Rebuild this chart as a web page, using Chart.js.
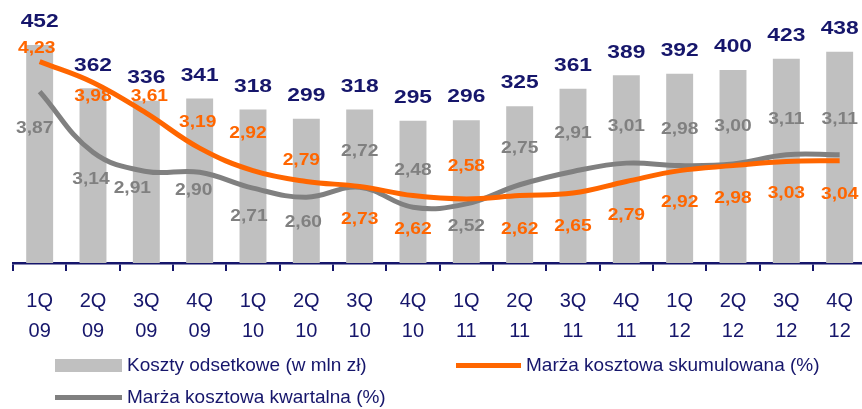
<!DOCTYPE html>
<html lang="pl">
<head>
<meta charset="utf-8">
<title>Koszty odsetkowe i marża kosztowa</title>
<script src="https://cdn.jsdelivr.net/npm/chart.js@4/dist/chart.umd.min.js"></script>
<style>
  html, body { margin: 0; padding: 0; background: #fff; overflow: hidden; }
  #wrap { position: relative; width: 862px; height: 409px; overflow: hidden; }
  #chart { position: absolute; left: 0; top: 0; }
  .legend-item { position: absolute; height: 20px; display: flex; align-items: center;
    font-family: 'Liberation Sans', Arial, sans-serif; font-size: 19px; color: #16166b; white-space: nowrap; }
  .swatch { display: inline-block; margin-right: 5px; }
</style>
</head>
<body>
<div id="wrap">
  <canvas id="chart" width="868" height="409"></canvas>
  <div class="legend-item" style="left:55px; top:355px;"><span class="swatch" style="width:67px;height:13px;background:#c0c0c0;"></span>Koszty odsetkowe (w mln zł)</div>
  <div class="legend-item" style="left:456px; top:355px;"><span class="swatch" style="width:65px;height:5px;background:#ff6600;"></span>Marża kosztowa skumulowana (%)</div>
  <div class="legend-item" style="left:55px; top:387px;"><span class="swatch" style="width:67px;height:5px;background:#808080;"></span>Marża kosztowa kwartalna (%)</div>
</div>
<script>
const quarters = ['1Q', '2Q', '3Q', '4Q', '1Q', '2Q', '3Q', '4Q', '1Q', '2Q', '3Q', '4Q', '1Q', '2Q', '3Q', '4Q'];
const years = ['09', '09', '09', '09', '10', '10', '10', '10', '11', '11', '11', '11', '12', '12', '12', '12'];
const interestCosts = [452, 362, 336, 341, 318, 299, 318, 295, 296, 325, 361, 389, 392, 400, 423, 438];
const cumulativeMargin = [4.23, 3.98, 3.61, 3.19, 2.92, 2.79, 2.73, 2.62, 2.58, 2.62, 2.65, 2.79, 2.92, 2.98, 3.03, 3.04];
const quarterlyMargin = [3.87, 3.14, 2.91, 2.90, 2.71, 2.60, 2.72, 2.48, 2.52, 2.75, 2.91, 3.01, 2.98, 3.00, 3.11, 3.11];

// where each line label sits relative to its point (px)
const cumulativeLabelDy = [-13, 14, -17, -26, -37, -21, 33, 34, -32, 34, 34, 34, 32, 33, 32, 34];
const cumulativeLabelDx = [-3, 0, 3, -2, -5, -5, 0, 0, 0, 0, 0, 0, 0, 0, 0, 0];
const quarterlyLabelDy = [37, 27, 17, 18, 28, 25, -36, -37, 23, -36, -38, -37, -36, -37, -35, -35];
const quarterlyLabelDx = [-5, -2, -14, -6, -4, -3, 0, 0, 0, 0, 0, 0, 0, 0, 0, 0];

const navy = '#16166b';
const labels = quarters.map((q, i) => [q, years[i]]);
const pl = v => v.toFixed(2).replace('.', ',');

// draws the value labels on bars and line points
const valueLabels = {
  id: 'valueLabels',
  afterDatasetsDraw(chart) {
    const ctx = chart.ctx;
    chart.data.datasets.forEach((ds, i) => {
      const opts = ds.valueLabels;
      if (!opts) return;
      const meta = chart.getDatasetMeta(i);
      meta.data.forEach((el, j) => {
        const dx = opts.dx ? opts.dx[j] : 0;
        const dy = Array.isArray(opts.dy) ? opts.dy[j] : opts.dy;
        ctx.save();
        ctx.translate(el.x + dx, el.y + dy);
        ctx.scale(1.2, 1);
        ctx.font = opts.font;
        ctx.fillStyle = opts.color;
        ctx.textAlign = 'center';
        ctx.textBaseline = 'middle';
        ctx.fillText(opts.format(ds.data[j]), 0, 0);
        ctx.restore();
      });
    });
  }
};

new Chart(document.getElementById('chart'), {
  type: 'bar',
  data: {
    labels: labels,
    datasets: [
      {
        type: 'line',
        label: 'Marża kosztowa skumulowana (%)',
        data: cumulativeMargin,
        yAxisID: 'y1',
        borderColor: '#ff6600',
        borderWidth: 5,
        pointRadius: 0,
        tension: 0.4,
        order: 1,
        valueLabels: { dy: cumulativeLabelDy, dx: cumulativeLabelDx, color: '#ff6600', font: 'bold 16px "Liberation Sans", Arial, sans-serif', format: pl }
      },
      {
        type: 'line',
        label: 'Marża kosztowa kwartalna (%)',
        data: quarterlyMargin,
        yAxisID: 'y1',
        borderColor: '#808080',
        borderWidth: 5,
        pointRadius: 0,
        tension: 0.4,
        order: 2,
        valueLabels: { dy: quarterlyLabelDy, dx: quarterlyLabelDx, color: '#808080', font: 'bold 16px "Liberation Sans", Arial, sans-serif', format: pl }
      },
      {
        label: 'Koszty odsetkowe (w mln zł)',
        data: interestCosts,
        yAxisID: 'y',
        backgroundColor: '#c0c0c0',
        barPercentage: 0.505,
        categoryPercentage: 1,
        order: 3,
        valueLabels: { dy: -23, color: navy, font: 'bold 19px "Liberation Sans", Arial, sans-serif', format: v => String(v) }
      }
    ]
  },
  options: {
    responsive: false,
    animation: false,
    layout: { padding: { left: 13, right: 0, top: 0, bottom: 48 } },
    plugins: {
      legend: { display: false },
      tooltip: { enabled: false }
    },
    scales: {
      x: {
        offset: true,
        grid: { display: true, offset: true, drawOnChartArea: false, drawTicks: true, tickLength: 8, color: navy, lineWidth: 2 },
        border: { display: true, color: navy, width: 2.5 },
        ticks: { color: navy, padding: 15, font: { family: '"Liberation Sans", Arial, sans-serif', size: 20, lineHeight: 1.5 }, maxRotation: 0, autoSkip: false }
      },
      y: { display: false, min: 0, max: 545 },
      y1: { display: false, min: 1.81, max: 4.97, position: 'right' }
    }
  },
  plugins: [valueLabels]
});
</script>
</body>
</html>
